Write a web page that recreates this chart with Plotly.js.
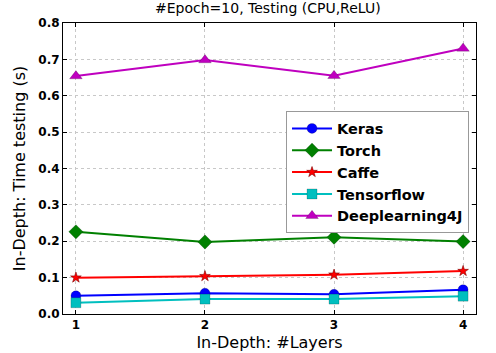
<!DOCTYPE html>
<html><head><meta charset="utf-8">
<script src="https://cdn.plot.ly/plotly-3.0.1.min.js"></script>
<style>html,body{margin:0;padding:0;background:#fff}#c{width:496px;height:353px}</style>
</head><body><div id="c"></div>
<script>
const layers = [1, 2, 3, 4];
const keras = [0.050, 0.057, 0.054, 0.067];
const torch = [0.226, 0.198, 0.211, 0.199];
const caffe = [0.100, 0.104, 0.108, 0.118];
const tensorflow = [0.031, 0.041, 0.041, 0.049];
const dl4j = [0.654, 0.698, 0.655, 0.730];
const names = ["Keras", "Torch", "Caffe", "Tensorflow", "Deeplearning4J"];
const tickVals = [1, 2, 3, 4];
const tickText = ["1", "2", "3", "4"];

const series = [keras, torch, caffe, tensorflow, dl4j];
const colors = ["#0000ff", "#008000", "#ff0000", "#00bfbf", "#bf00bf"];
const symbols = ["circle", "diamond", "star", "square", "triangle-up"];
const sizes = [10, 11, 8, 10, 11];

const traces = series.map((s, i) => ({
  x: layers, y: s, name: names[i], type: "scatter", mode: "lines+markers",
  line: {color: colors[i], width: 2},
  marker: {symbol: symbols[i], color: colors[i], size: sizes[i], line: {color: i === 2 ? "#800000" : "rgba(0,0,0,0.3)", width: 0.6}}
}));

const ax = {
  showline: true, linecolor: "#000", linewidth: 1, mirror: "ticks",
  ticks: "inside", ticklen: 4, tickcolor: "#000",
  showgrid: true, gridcolor: "#c8c8c8", griddash: "dot", gridwidth: 1,
  zeroline: false,
  tickfont: {family: "DejaVu Sans", size: 12, color: "#000", weight: "bold"}
};

Plotly.newPlot("c", traces, {
  width: 496, height: 353,
  margin: {l: 63, r: 20, t: 23, b: 39},
  paper_bgcolor: "#fff", plot_bgcolor: "#fff",
  title: {text: "#Epoch=10, Testing (CPU,ReLU)", font: {family: "DejaVu Sans", size: 14, color: "#000"}, x: 0.54, xanchor: "center", y: 0.99, yanchor: "top"},
  xaxis: Object.assign({}, ax, {range: [0.9, 4.1], tickvals: tickVals, ticktext: tickText,
    title: {text: "In-Depth: #Layers", font: {family: "DejaVu Sans", size: 16, color: "#000"}, standoff: 5}}),
  yaxis: Object.assign({}, ax, {range: [0, 0.8], dtick: 0.1, tickformat: ".1f",
    title: {text: "In-Depth: Time testing (s)", font: {family: "DejaVu Sans", size: 16, color: "#000"}, standoff: 8}}),
  showlegend: true,
  legend: {x: 0.54, y: 0.696, xanchor: "left", yanchor: "top", bgcolor: "#fff", bordercolor: "#999", borderwidth: 1,
    font: {family: "DejaVu Sans", size: 14.5, color: "#000", weight: "bold"}, tracegroupgap: 0, itemwidth: 40}
}, {displayModeBar: false, staticPlot: true});
</script></body></html>
